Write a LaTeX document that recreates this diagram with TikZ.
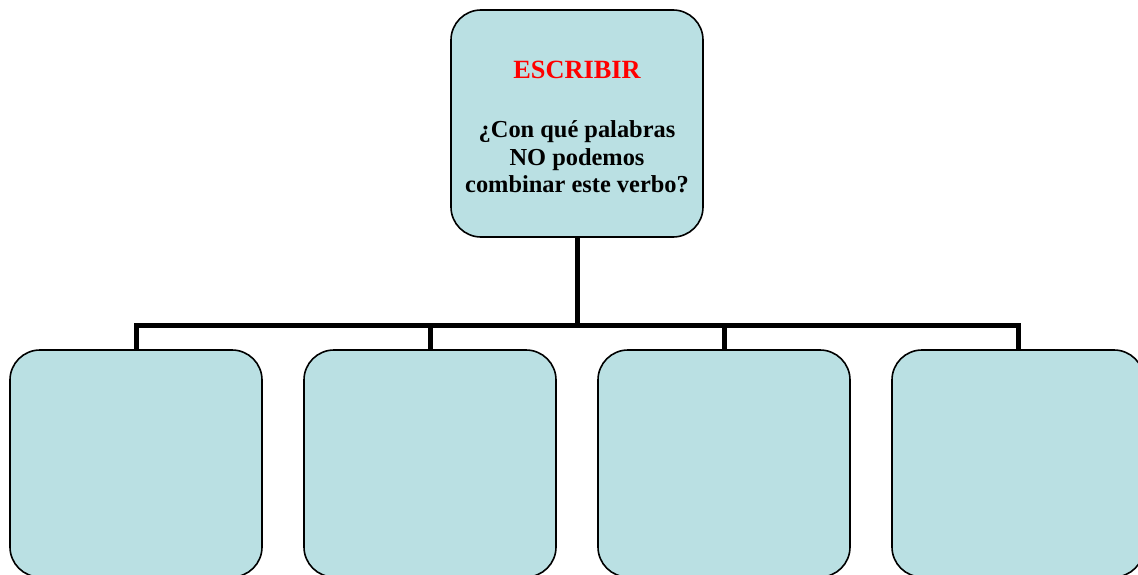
\documentclass[tikz,border=0pt]{standalone}
\usepackage{fontspec}
\setmainfont{Liberation Serif}
\definecolor{boxfill}{RGB}{186,224,227}
\definecolor{titlered}{RGB}{255,0,0}
\begin{document}
\begin{tikzpicture}[x=1pt,y=1pt,
  card/.style={draw=black,line width=1.6pt,fill=boxfill,rounded corners=30pt,
    minimum width=252pt,minimum height=227pt,inner sep=0pt,outer sep=0pt},
  link/.style={line width=5pt,draw=black}]
\useasboundingbox (0,0) rectangle (1138,-575);
\clip (0,0) rectangle (1138,-575);
\node[card] (top) at (577,-123.5) {};
\node[font=\fontsize{26.3}{28}\selectfont\bfseries,text=titlered] (title) at (577,-70) {ESCRIBIR};
\node[font=\fontsize{24.4}{27.7}\selectfont\bfseries,align=center,anchor=north] (question) at (577,-117)
  {¿Con qué palabras\\NO podemos\\combinar este verbo?};
\node[card] (b1) at (136,-463.5) {};
\node[card] (b2) at (430,-463.5) {};
\node[card] (b3) at (724,-463.5) {};
\node[card] (b4) at (1018,-463.5) {};
\coordinate (j) at (577,-325);
\draw[link] (top.south) -- (j);
\draw[link,line join=miter] (b1.north) -- (b1.north |- j) -- (b4.north |- j) -- (b4.north);
\draw[link] (b2.north) -- (b2.north |- j);
\draw[link] (b3.north) -- (b3.north |- j);
\end{tikzpicture}
\end{document}
